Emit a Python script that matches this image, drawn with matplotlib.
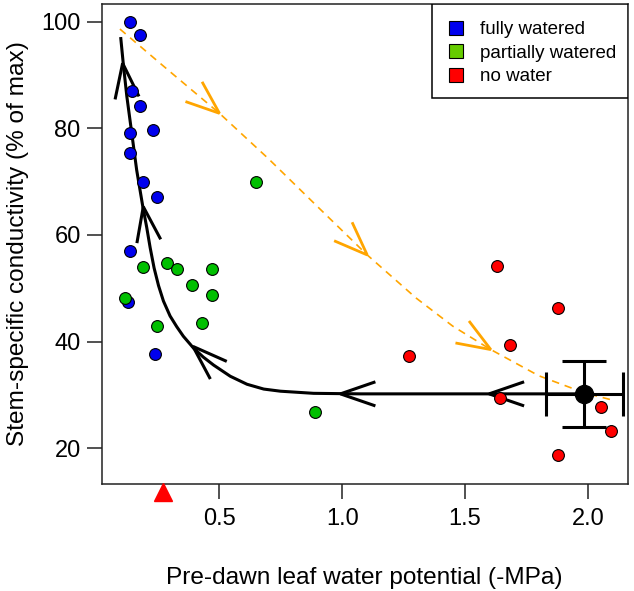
import numpy as np
import matplotlib
matplotlib.use("Agg")
import matplotlib.pyplot as plt
from matplotlib.lines import Line2D
from matplotlib.patches import Rectangle

plt.rcParams['font.family'] = ['Liberation Sans', 'DejaVu Sans']

# ---- data ----
full_x = [0.137, 0.178, 0.146, 0.178, 0.137, 0.230, 0.137, 0.191, 0.248, 0.138, 0.130, 0.240]
full_y = [100.0, 97.4, 87.0, 84.2, 79.2, 79.6, 75.3, 70.0, 67.2, 57.0, 47.5, 37.7]

part_x = [0.116, 0.189, 0.288, 0.329, 0.390, 0.470, 0.470, 0.431, 0.248, 0.650, 0.891]
part_y = [48.2, 53.9, 54.8, 53.6, 50.7, 53.7, 48.7, 43.5, 42.9, 70.0, 26.8]

none_x = [1.272, 1.632, 1.880, 1.682, 1.643, 2.053, 2.094, 1.880]
none_y = [37.3, 54.1, 46.3, 39.4, 29.4, 27.8, 23.2, 18.7]

mean_x, mean_y = 1.985, 30.2
mean_xerr, mean_yerr = 0.156, 6.2

# recovery path (black curve)
recov_x = [0.099, 0.110, 0.124, 0.144, 0.164, 0.188, 0.205, 0.219, 0.235, 0.253,
           0.273, 0.300, 0.327, 0.354, 0.395, 0.435, 0.477, 0.545, 0.613, 0.681,
           0.749, 0.884, 1.075, 1.985]
recov_y = [97.1, 91.9, 86.0, 79.1, 72.2, 65.6, 61.4, 57.6, 53.8, 50.5,
           47.6, 44.8, 42.8, 41.0, 38.8, 37.1, 35.6, 33.5, 32.0, 31.1,
           30.7, 30.3, 30.2, 30.2]

# drought path (orange dashed)
drought_x = [0.096, 0.300, 0.501, 0.700, 0.900, 1.102, 1.300, 1.450, 1.605, 1.800, 1.985, 2.094]
drought_y = [98.6, 90.6, 82.8, 74.3, 65.3, 56.25, 48.2, 42.9, 38.5, 33.6, 30.4, 29.1]

# arrow heads: (tip, point behind the tip along the path)
black_arrows = [((0.107, 92.2), (0.124, 86.0)),
                ((0.191, 65.3), (0.219, 57.2)),
                ((0.393, 39.1), (0.463, 36.1)),
                ((0.993, 30.2), (1.200, 30.2)),
                ((1.598, 30.2), (1.800, 30.2))]
orange_arrows = [((0.501, 82.8), (0.300, 90.6)),
                 ((1.102, 56.25), (0.900, 65.3)),
                 ((1.605, 38.5), (1.450, 42.9))]

marker_x = 0.273  # red triangle on the x axis

legend_labels = ['fully watered', 'partially watered', 'no water']
legend_colors = ['#0000EE', '#66CC00', '#FF0000']
point_colors = ['#0000EE', '#00C000', '#FF0000']

xticks = [0.5, 1.0, 1.5, 2.0]
yticks = [20, 40, 60, 80, 100]

# ---- figure ----
W, H = 634, 591
fig = plt.figure(figsize=(W / 100, H / 100), dpi=100)
ax = fig.add_axes([101.5 / W, 1 - 484 / H, (628 - 101.5) / W, (484 - 4) / H])
ax.set_xlim(0.021, 2.163)
ax.set_ylim(13.3, 103.3)

for s in ax.spines.values():
    s.set_linewidth(1.1)
    s.set_color('#222222')

ax.set_xticks(xticks)
ax.set_xticklabels(['0.5', '1.0', '1.5', '2.0'])
ax.set_yticks(yticks)
ax.tick_params(direction='out', length=11, width=1.1, labelsize=17, colors='#222222',
               labelcolor='black')
ax.tick_params(axis='x', pad=6)
ax.tick_params(axis='y', pad=4)

ax.set_xlabel('Pre-dawn leaf water potential (-MPa)', fontsize=17.6, va='center')
ax.set_ylabel('Stem-specific conductivity (% of max)', fontsize=17.6, va='center')
ax.xaxis.set_label_coords(0.5, (484 - 578) / 480)
ax.yaxis.set_label_coords((18 - 101.5) / 526.5, 0.5)

# orange dashed path
ax.plot(drought_x, drought_y, color='#FFA500', lw=1.2, ls=(0, (4.5, 3.5)), zorder=2)

# black recovery path
ax.plot(recov_x, recov_y, color='black', lw=2.2, zorder=3, solid_capstyle='butt',
        solid_joinstyle='round')

def chevron(tip, back, color, lw, length_px=36, angle_deg=20):
    t = ax.transData.transform(tip)
    b = ax.transData.transform(back)
    d = (b - t) / np.linalg.norm(b - t)
    pts = []
    for sgn in (1, -1):
        a = np.deg2rad(sgn * angle_deg)
        r = np.array([d[0] * np.cos(a) - d[1] * np.sin(a),
                      d[0] * np.sin(a) + d[1] * np.cos(a)])
        pts.append(t + r * length_px)
    arr = np.array([pts[0], t, pts[1]])
    arr = ax.transData.inverted().transform(arr)
    ax.plot(arr[:, 0], arr[:, 1], color=color, lw=lw, zorder=4,
            solid_joinstyle='miter', solid_capstyle='butt')

for tip, back in black_arrows:
    chevron(tip, back, 'black', 2.2, 37, 19)
for tip, back in orange_arrows:
    chevron(tip, back, '#FFA500', 2.0, 36, 21)

# points
ms = 8.5
ax.plot(full_x, full_y, 'o', ms=ms, mfc=point_colors[0], mec='black', mew=0.8, zorder=5)
ax.plot(part_x, part_y, 'o', ms=ms, mfc=point_colors[1], mec='black', mew=0.8, zorder=5)
ax.plot(none_x, none_y, 'o', ms=ms, mfc=point_colors[2], mec='black', mew=0.8, zorder=5)

# mean with error bars
ax.errorbar([mean_x], [mean_y], xerr=[mean_xerr], yerr=[mean_yerr], fmt='o', ms=13,
            color='black', ecolor='black', elinewidth=2.2, capsize=16, capthick=2.2, zorder=6)

# red triangle below the axis
ax.plot([marker_x], [-0.0167], marker='^', ms=13, color='#FF0000', mec='#FF0000',
        transform=ax.get_xaxis_transform(), clip_on=False, zorder=7)

# legend: frame drawn as a rectangle, entries as a frameless legend
x0 = (431.7 - 101.5) / 526.5
y0 = (484 - 98) / 480
ax.add_patch(Rectangle((x0, y0), 1 - x0, 1 - y0, transform=ax.transAxes,
                       fill=True, facecolor='white', edgecolor='black', lw=1.1, zorder=8))
handles = [Line2D([], [], ls='none', marker='s', ms=10.5, mfc=c, mec='black', mew=0.8)
           for c in legend_colors]
leg = ax.legend(handles, legend_labels, loc='upper right', bbox_to_anchor=(1, 1 - 5.7 / 480),
                borderaxespad=0, frameon=False,
                fontsize=13.5, handlelength=1.44, handletextpad=0.57, borderpad=0.6,
                labelspacing=0.34)
leg.set_zorder(9)

fig.savefig('out.png', dpi=100)
